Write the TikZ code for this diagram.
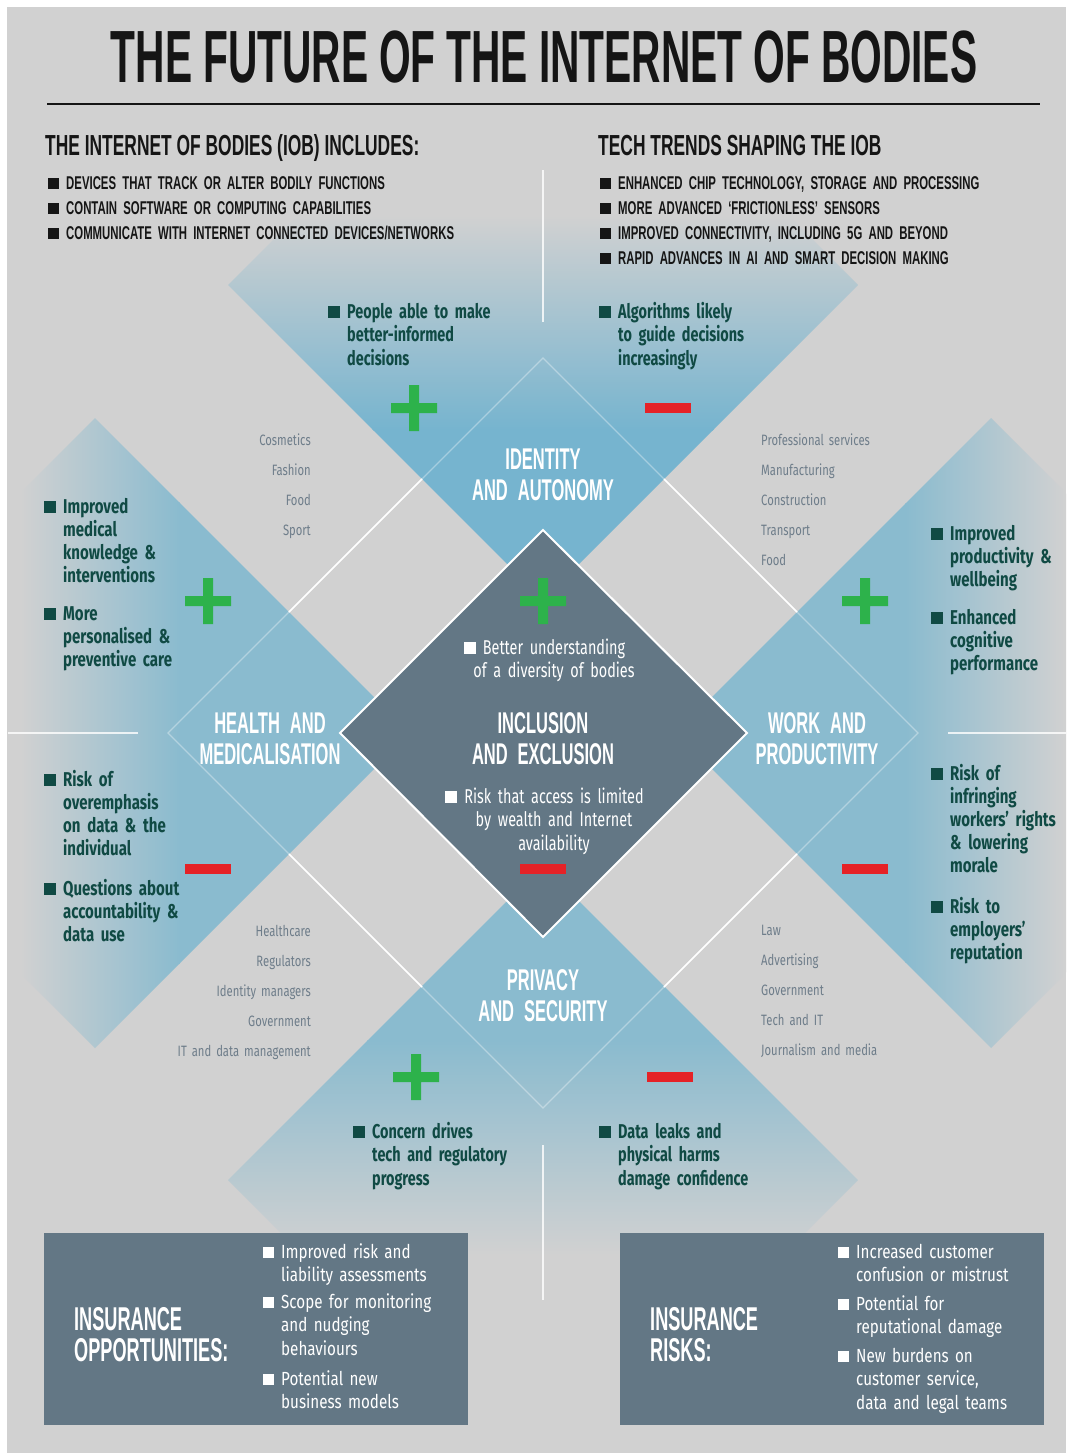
\documentclass[tikz,border=0pt]{standalone}
\usepackage{fontspec}
\newfontfamily\titlefont[FakeStretch=0.55]{Liberation Sans}
\newfontfamily\headfont[FakeStretch=0.6]{Liberation Sans}
\newfontfamily\itemfont[FakeStretch=0.615]{Liberation Sans}
\newfontfamily\bodyfont[FakeStretch=0.8]{Fira Sans}
\newfontfamily\sidefont[FakeStretch=0.75]{Fira Sans}
\newfontfamily\catfont[FakeStretch=0.75]{Fira Sans}
\newfontfamily\armfont[FakeStretch=0.72]{Fira Sans}

\definecolor{bggray}{HTML}{D1D1D1}
\definecolor{armblue}{HTML}{76B4CF}
\definecolor{sideblue}{HTML}{8ABBCF}
\definecolor{slate}{HTML}{637785}
\definecolor{tealtxt}{HTML}{104A44}
\definecolor{cattxt}{HTML}{6E7D8A}
\definecolor{plusgreen}{HTML}{2DB24B}
\definecolor{minusred}{HTML}{E52227}
\definecolor{inkblack}{HTML}{151515}

\newcommand\bsq[1][12pt]{\makebox[0pt][r]{\rule{#1}{#1}\hspace{7pt}}}

\tikzset{
  plussign/.pic={\fill[plusgreen] (-23,-5) rectangle (23,5) (-5,-23) rectangle (5,23);},
  minussign/.pic={\fill[minusred] (-23,-5) rectangle (23,5);},
  sectlabel/.style={anchor=base, text width=300, align=center, inner sep=0, text=white,
    font={\titlefont\bfseries\fontsize{30}{31}\selectfont\spaceskip 7pt\relax}},
  tealtext/.style={anchor=base west, text width=230, align=left, inner sep=0, text=tealtxt,
    font={\armfont\bfseries\fontsize{20}{23.5}\selectfont\spaceskip 4.5pt\relax}},
  sidetext/.style={anchor=base west, text width=200, align=left, inner sep=0, text=tealtxt,
    font={\sidefont\bfseries\fontsize{20}{23}\selectfont\spaceskip 5pt\relax}},
  centertext/.style={anchor=base, text width=280, align=center, inner sep=0, text=white,
    font={\armfont\fontsize{20}{23.5}\selectfont\spaceskip 4.5pt\relax}},
  catright/.style={anchor=base east, text width=200, align=right, inner sep=0, text=cattxt,
    font={\catfont\fontsize{15}{30.2}\selectfont\spaceskip 3.5pt\relax}},
  catleft/.style={anchor=base west, text width=200, align=left, inner sep=0, text=cattxt,
    font={\catfont\fontsize{15}{30.2}\selectfont\spaceskip 3.5pt\relax}},
  instext/.style={anchor=base west, text width=200, align=left, inner sep=0, text=white,
    font={\bodyfont\fontsize{19}{23.7}\selectfont\spaceskip 5pt\relax}},
  institle/.style={anchor=base west, text width=200, align=left, inner sep=0, text=white,
    font=\titlefont\bfseries\fontsize{33}{31}\selectfont},
  insbox/.style={fill=slate, anchor=north west, inner sep=0, minimum width=424, minimum height=192},
}

\begin{document}
\begin{tikzpicture}[x=1pt,y=-1pt]
  \useasboundingbox (0,0) rectangle (1066,1453);
  \fill[white] (0,0) rectangle (1066,1453);
  \fill[bggray] (7,7) rectangle (1066,1453);

  %% the four arms
  \begin{scope}
    \clip (228,285) -- (543,-30) -- (858,285) -- (543,600) -- cycle;
    \shade[top color=bggray, bottom color=armblue] (228,215) rectangle (858,430);
    \fill[armblue] (228,429) rectangle (858,600);
  \end{scope}
  \begin{scope}
    \clip (228,1180) -- (543,865) -- (858,1180) -- (543,1495) -- cycle;
    \fill[sideblue] (228,865) rectangle (858,1041);
    \shade[top color=sideblue, bottom color=bggray] (228,1040) rectangle (858,1255);
  \end{scope}
  \begin{scope}
    \clip (95,418) -- (410,733) -- (95,1048) -- (-220,733) -- cycle;
    \shade[left color=bggray, right color=sideblue] (20,418) rectangle (180,1048);
    \fill[sideblue] (179,418) rectangle (410,1048);
  \end{scope}
  \begin{scope}
    \clip (991,418) -- (1306,733) -- (991,1048) -- (676,733) -- cycle;
    \fill[sideblue] (676,418) rectangle (906,1048);
    \shade[left color=sideblue, right color=bggray] (905,418) rectangle (1066,1048);
  \end{scope}

  %% thin lines
  \draw[white, opacity=0.35, line width=1.2] (543,358) -- (918,733) -- (543,1108) -- (168,733) -- cycle;
  \draw[white, line width=1.6] (289,612) -- (422,479) (664,479) -- (797,612)
    (289,854) -- (422,987) (664,987) -- (797,854);
  \draw[white, opacity=0.8, line width=1.2] (543,170) -- (543,322) (543,1145) -- (543,1300)
    (8,733) -- (138,733) (948,733) -- (1066,733);

  %% centre diamond
  \filldraw[fill=slate, draw=white, line width=2] (543,530) -- (747,733) -- (543,937) -- (340,733) -- cycle;

  \pic at (414,408) {plussign};
  \pic at (668,408) {minussign};
  \pic at (208,601) {plussign};
  \pic at (208,869) {minussign};
  \pic at (543,601) {plussign};
  \pic at (543,869) {minussign};
  \pic at (865,601) {plussign};
  \pic at (865,869) {minussign};
  \pic at (416,1077) {plussign};
  \pic at (670,1077) {minussign};

  %% header
  \node[anchor=base, inner sep=0, text=inkblack,
    font={\titlefont\bfseries\fontsize{74}{74}\selectfont\spaceskip 11pt\relax}]
    (title) at (544,83) {THE FUTURE OF THE INTERNET OF BODIES};
  \draw[inkblack, line width=2] (47,104) -- (1040,104);
  \node[anchor=base west, inner sep=0, text=inkblack, font=\headfont\bfseries\fontsize{29}{29}\selectfont]
    (includes) at (45,156) {THE INTERNET OF BODIES (IOB) INCLUDES:};
  \node[anchor=base west, inner sep=0, text=inkblack, font=\headfont\bfseries\fontsize{29}{29}\selectfont]
    (trends) at (598,156) {TECH TRENDS SHAPING THE IOB};
  \node[anchor=base west, text width=450, align=left, inner sep=0, text=inkblack,
    font={\itemfont\bfseries\fontsize{18.5}{25}\selectfont\spaceskip 4.5pt\relax}] (incitems) at (66,189)
    {\bsq[11pt]DEVICES THAT TRACK OR ALTER BODILY FUNCTIONS\\
     \bsq[11pt]CONTAIN SOFTWARE OR COMPUTING CAPABILITIES\\
     \bsq[11pt]COMMUNICATE WITH INTERNET CONNECTED DEVICES/NETWORKS};
  \node[anchor=base west, text width=420, align=left, inner sep=0, text=inkblack,
    font={\itemfont\bfseries\fontsize{18.5}{25}\selectfont\spaceskip 4.5pt\relax}] (trenditems) at (618,189)
    {\bsq[11pt]ENHANCED CHIP TECHNOLOGY, STORAGE AND PROCESSING\\
     \bsq[11pt]MORE ADVANCED ‘FRICTIONLESS’ SENSORS\\
     \bsq[11pt]IMPROVED CONNECTIVITY, INCLUDING 5G AND BEYOND\\
     \bsq[11pt]RAPID ADVANCES IN AI AND SMART DECISION MAKING};

  %% section names
  \node[sectlabel] (identity) at (543,469) {IDENTITY\\AND AUTONOMY};
  \node[sectlabel] (health) at (270,733) {HEALTH AND\\MEDICALISATION};
  \node[sectlabel] (inclusion) at (543,733) {INCLUSION\\AND EXCLUSION};
  \node[sectlabel] (work) at (817,733) {WORK AND\\PRODUCTIVITY};
  \node[sectlabel] (privacy) at (543,990) {PRIVACY\\AND SECURITY};

  %% pros and cons
  \node[tealtext] (idplus) at (347,318) {\bsq People able to make\\better-informed\\decisions};
  \node[tealtext] (idminus) at (618,318) {\bsq Algorithms likely\\to guide decisions\\increasingly};
  \node[sidetext] (hplusa) at (63,513) {\bsq Improved\\medical\\knowledge \&\\interventions};
  \node[sidetext] (hplusb) at (63,620) {\bsq More\\personalised \&\\preventive care};
  \node[sidetext] (hminusa) at (63,786) {\bsq Risk of\\overemphasis\\on data \& the\\individual};
  \node[sidetext] (hminusb) at (63,895) {\bsq Questions about\\accountability \&\\data use};
  \node[sidetext] (wplusa) at (950,540) {\bsq Improved\\productivity \&\\wellbeing};
  \node[sidetext] (wplusb) at (950,624) {\bsq Enhanced\\cognitive\\performance};
  \node[sidetext] (wminusa) at (950,780) {\bsq Risk of\\infringing\\workers’ rights\\\& lowering\\morale};
  \node[sidetext] (wminusb) at (950,913) {\bsq Risk to\\employers’\\reputation};
  \node[tealtext] (pplus) at (372,1138) {\bsq Concern drives\\tech and regulatory\\progress};
  \node[tealtext] (pminus) at (618,1138) {\bsq Data leaks and\\physical harms\\damage confidence};
  \node[centertext] (incplus) at (554,654) {\bsq Better understanding\\of a diversity of bodies};
  \node[centertext] (incminus) at (554,803) {\bsq Risk that access is limited\\by wealth and Internet\\availability};

  %% sectors
  \node[catright] (sectorsa) at (311,445) {Cosmetics\\Fashion\\Food\\Sport};
  \node[catleft] (sectorsb) at (761,445) {Professional services\\Manufacturing\\Construction\\Transport\\Food};
  \node[catright] (sectorsc) at (311,936) {Healthcare\\Regulators\\Identity managers\\Government\\IT and data management};
  \node[catleft] (sectorsd) at (761,935) {Law\\Advertising\\Government\\Tech and IT\\Journalism and media};

  %% insurance
  \node[insbox] (oppbox) at (44,1233) {};
  \node[insbox] (riskbox) at (620,1233) {};
  \node[institle] (opptitle) at (74,1330) {INSURANCE\\OPPORTUNITIES:};
  \node[institle] (risktitle) at (650,1330) {INSURANCE\\RISKS:};
  \node[instext] (oppa) at (281,1258) {\bsq[11pt]Improved risk and\\liability assessments};
  \node[instext] (oppb) at (281,1308) {\bsq[11pt]Scope for monitoring\\and nudging\\behaviours};
  \node[instext] (oppc) at (281,1385) {\bsq[11pt]Potential new\\business models};
  \node[instext] (riska) at (856,1258) {\bsq[11pt]Increased customer\\confusion or mistrust};
  \node[instext] (riskb) at (856,1310) {\bsq[11pt]Potential for\\reputational damage};
  \node[instext] (riskc) at (856,1362) {\bsq[11pt]New burdens on\\customer service,\\data and legal teams};
\end{tikzpicture}
\end{document}
